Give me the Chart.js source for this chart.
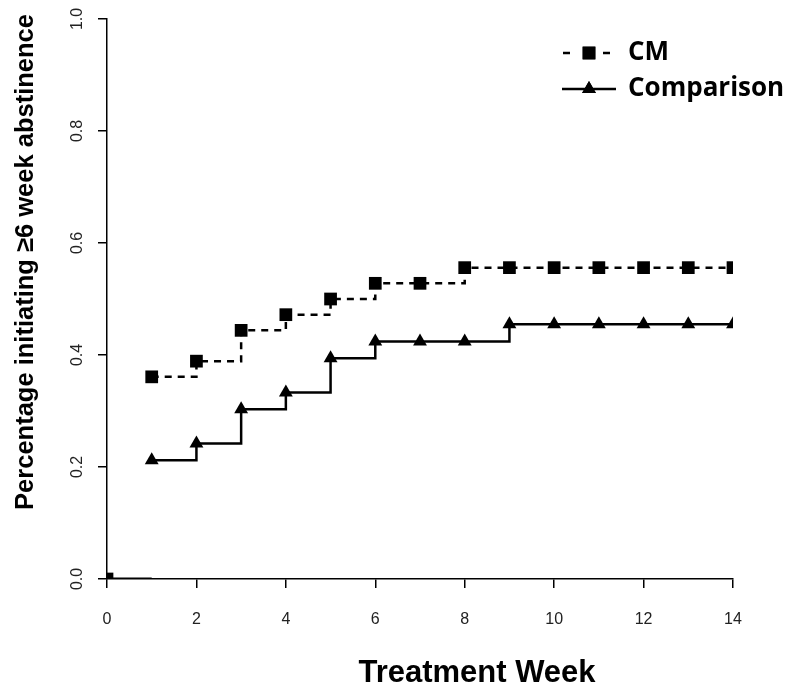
<!DOCTYPE html>
<html>
<head>
<meta charset="utf-8">
<script src="https://cdn.jsdelivr.net/npm/chart.js@4"></script>
<style>
  html, body { margin: 0; padding: 0; background: #fff; }
  #wrap { width: 789px; height: 690px; }
</style>
</head>
<body>
<div id="wrap"><canvas id="chart" width="789" height="690"></canvas></div>
<script>
const weeks = [1, 2, 3, 4, 5, 6, 7, 8, 9, 10, 11, 12, 13, 14];
const cmValues = [0.361, 0.389, 0.444, 0.472, 0.5, 0.528, 0.528, 0.556, 0.556, 0.556, 0.556, 0.556, 0.556, 0.556];
const comparisonValues = [0.212, 0.242, 0.303, 0.333, 0.394, 0.424, 0.424, 0.424, 0.455, 0.455, 0.455, 0.455, 0.455, 0.455];
const baselineWeeks = [0, 1];
const baselineValues = [0, 0];
const xTicks = [0, 2, 4, 6, 8, 10, 12, 14];
const yTicks = [0, 0.2, 0.4, 0.6, 0.8, 1.0];
const xTitle = 'Treatment Week';
const yTitle = 'Percentage initiating \u22656 week abstinence';

const toPoints = (xs, ys) => xs.map((x, i) => ({ x: x, y: ys[i] }));

// legend and axis titles are drawn by hand, R-style placement
const extras = {
  id: 'extras',
  afterDraw(chart) {
    const ctx = chart.ctx;
    ctx.save();
    ctx.fillStyle = '#000';

    ctx.font = 'bold 31px "Liberation Sans", Arial, sans-serif';
    ctx.textAlign = 'center';
    ctx.textBaseline = 'alphabetic';
    ctx.fillText(xTitle, 477, 682);

    ctx.save();
    ctx.font = 'bold 25.5px "Liberation Sans", Arial, sans-serif';
    ctx.translate(33, 262);
    ctx.rotate(-Math.PI / 2);
    ctx.fillText(yTitle, 0, 0);
    ctx.restore();

    // legend
    const rows = [
      { ds: chart.data.datasets[0], y: 53 },
      { ds: chart.data.datasets[1], y: 89 }
    ];
    rows.forEach((row) => {
      const ds = row.ds;
      ctx.strokeStyle = '#000';
      ctx.lineWidth = ds.borderWidth;
      ctx.setLineDash(ds.borderDash || []);
      ctx.beginPath();
      if (ds.borderDash) {
        ctx.moveTo(563, row.y); ctx.lineTo(570, row.y);
        ctx.moveTo(603, row.y); ctx.lineTo(610, row.y);
      } else {
        ctx.moveTo(562, row.y); ctx.lineTo(616, row.y);
      }
      ctx.stroke();
      ctx.setLineDash([]);
      Chart.helpers.drawPoint(ctx, { pointStyle: ds.pointStyle, radius: ds.pointRadius, borderWidth: 0, rotation: 0 }, 589, row.y);
      ctx.fill();
      ctx.font = 'bold 26px "Open Sans", sans-serif';
      ctx.textAlign = 'left';
      ctx.textBaseline = 'middle';
      ctx.fillText(ds.label, 628, row.y);
    });
    ctx.restore();
  }
};

new Chart(document.getElementById('chart'), {
  type: 'line',
  data: {
    datasets: [
      {
        label: 'CM',
        data: toPoints(weeks, cmValues),
        borderColor: '#000',
        backgroundColor: '#000',
        borderWidth: 2.5,
        borderDash: [7, 6],
        stepped: 'before',
        pointStyle: 'rect',
        pointRadius: 9,
        pointBorderWidth: 0,
        clip: 0
      },
      {
        label: 'Comparison',
        data: toPoints(weeks, comparisonValues),
        borderColor: '#000',
        backgroundColor: '#000',
        borderWidth: 2.5,
        stepped: 'before',
        pointStyle: 'triangle',
        pointRadius: 8,
        pointBorderWidth: 0,
        clip: 0
      },
      {
        label: 'start',
        data: toPoints(baselineWeeks, baselineValues),
        borderColor: '#000',
        backgroundColor: '#000',
        borderWidth: 3,
        pointStyle: 'rect',
        pointRadius: [9, 0],
        pointBorderWidth: 0,
        clip: 0
      }
    ]
  },
  options: {
    responsive: false,
    animation: false,
    layout: { padding: { top: 19, right: 56, left: 0, bottom: 0 } },
    plugins: { legend: { display: false }, tooltip: { enabled: false } },
    scales: {
      x: {
        type: 'linear',
        min: 0,
        max: 14,
        afterFit: (scale) => { scale.height = 111; },
        afterBuildTicks: (scale) => { scale.ticks = xTicks.map(v => ({ value: v })); },
        ticks: { color: '#222', padding: 22, maxRotation: 0, font: { family: '"Liberation Sans", Arial, sans-serif', size: 16 } },
        grid: { drawOnChartArea: false, drawTicks: true, tickLength: 9, color: '#000', lineWidth: 1.5 },
        border: { display: true, color: '#000', width: 1.5 }
      },
      y: {
        min: 0,
        max: 1,
        afterFit: (scale) => { scale.width = 107; },
        afterBuildTicks: (scale) => { scale.ticks = yTicks.map(v => ({ value: v })); },
        ticks: {
          color: '#222', padding: 9, minRotation: 90, maxRotation: 90, crossAlign: 'center',
          font: { family: '"Liberation Sans", Arial, sans-serif', size: 16 },
          callback: (v) => v.toFixed(1)
        },
        grid: { drawOnChartArea: false, drawTicks: true, tickLength: 9, color: '#000', lineWidth: 1.5 },
        border: { display: true, color: '#000', width: 1.5 }
      }
    }
  },
  plugins: [extras]
});
</script>
</body>
</html>
